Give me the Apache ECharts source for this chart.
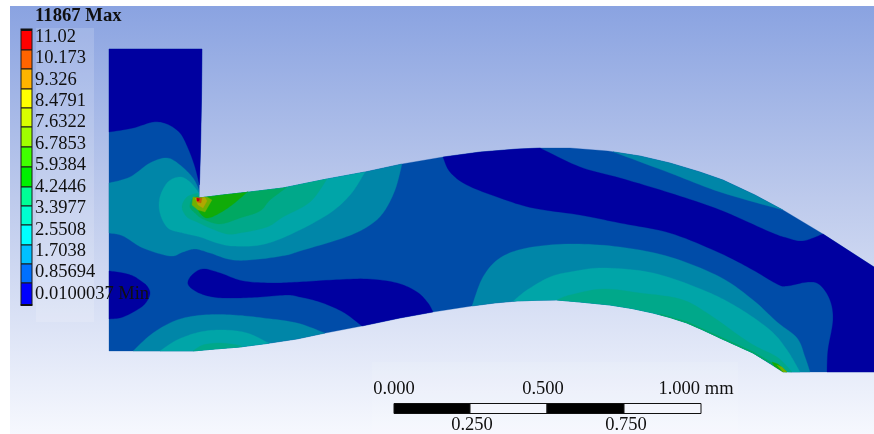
<!DOCTYPE html>
<html><head><meta charset="utf-8">
<style>html,body{margin:0;padding:0;background:#fff}#c{width:874px;height:434px}</style>
<script src="https://cdn.jsdelivr.net/npm/echarts@6/dist/echarts.min.js"></script>
</head><body><div id="c"></div>
<script>
// Colour key
const legendColors=['#ff0000','#ff6400','#ffb400','#ffff00','#d8ff00','#a0ff00','#40ff00','#00f000','#00ff96','#00ffd0','#00ffff','#00c0ff','#0070ff','#0000ff'];
const legendLabels=['11.02','10.173','9.326','8.4791','7.6322','6.7853','5.9384','4.2446','3.3977','2.5508','1.7038','0.85694','0.0100037 Min'];
const legendEdges=[30.5,50,69,89,108,127,147,167,187,206,225,245,264,283,304.5];
const legendLabelY=[37,58.5,80,101,122.5,144,165,187,208.5,230,251,272.5,294.5];
// Shaded model colours by contour band
const navy='#0000a0',band2='#004ca8',band3='#0086a8',band4='#00a5a8',band5='#00a88a',band6='#00a862',band7='#10ab08',band8='#70b000',band9='#b0a800',band10='#c06000',band11='#c00010';
// Boundary of the part (traced in image units)
const upperWall=[[199,198],[223,195],[250,192],[283,188],[300,184.5],[327,179],[365,172],[402,164],[443,157],[480,152],[517,149],[540,148],[570,148],[608,151],[640,156],[670,163],[700,172],[723,180],[755,195],[783,210],[823,234],[874,267]];
const lowerWall=[[109,351],[193,351],[215,349],[240,347],[267,343.5],[297,339],[323,333.5],[362,326],[400,318],[433,312],[472,306],[495,303],[517,301],[537,300.3],[557,300],[580,302],[610,305],[632,308.5],[653,313],[670,317.5],[687,323],[703,330],[720,338],[753,353],[783,371]];
const onWall=(wall,a,b)=>{const f=x=>{for(let i=0;i<wall.length-1;i++){const p=wall[i],q=wall[i+1];if(x>=p[0]&&x<=q[0])return [x,p[1]+(q[1]-p[1])*(x-p[0])/(q[0]-p[0])];}};const l=Math.min(a,b),h=Math.max(a,b);const r=[f(l),...wall.filter(p=>p[0]>l&&p[0]<h),f(h)].map(p=>[p[0],p[1],1]);return a<=b?r:r.reverse();};
const wallU=(a,b)=>onWall(upperWall,a,b), wallL=(a,b)=>onWall(lowerWall,a,b);
const domain=[[109,49],[202,49],[201.5,100],[200.5,150],[199,198],...upperWall.slice(1),[874,372],[783,372],...lowerWall.slice(0,-1).reverse()];
// Contour regions, painted from the lowest layer up
const navyTop=[[109,49,1],[202,49,1],[201.5,100,1],[200.5,150,1],[199.5,185,1],[195,167],[188,148],[180,133],[167,124],[153,122],[133,128],[109,132]];
const navyLeft=[[109,271],[123,273],[133,276],[141,281],[147,286],[150,293],[147,301],[140,308],[123,317],[109,319]];
const navyLens=[[188,284],[192,275],[203,269],[220,273],[243,281],[273,283],[300,282],[333,280],[367,279],[397,283],[417,292],[428,303],...wallL(433,362),[343,312],[320,302],[300,297],[287,295],[260,297],[233,298],[213,297],[197,292]];
const navyBand=[...wallU(443,540),[580,167],[620,178],[670,193],[720,210],[770,232],[787,238],[803,241],...wallU(823,874),[874,372],[827,372],[828,350],[833,320],[830,300],[820,285],[808,282],[787,286],[777,284],[753,270],[720,253],[670,233],[620,223],[580,215],[533,208],[500,198],[467,185],[450,172]];
const b3Upper=[[109,183],[130,177],[150,163],[167,158],[180,165],[193,178],[199,190,1],...wallU(199,402),[395,190],[383,213],[367,227],[343,238],[300,251],[287,255],[260,259],[233,260],[210,253],[195,249],[183,252],[170,256],[143,248],[123,236],[109,233]];
const b3Lower=[[133,351],[153,333],[177,320],[203,315],[233,315],[263,318],[297,323],...wallL(325,193)];
const b3Sliver=[...wallU(613,783),[720,192],[670,173]];
const b3Right=[...wallL(472,783),[792,372],[810,372],[805,357],[797,338],[777,322],[753,300],[720,277],[670,257],[620,247],[570,244],[527,248],[500,258],[483,277]];
const b4Upper=[[199,193,1],[190,182],[180,177],[168,182],[160,197],[160,213],[168,228],[183,233],[200,237],[217,243],[233,246],[260,245],[287,236],[327,215],[350,195],...wallU(365,199)];
const b4Lower=[[160,351],[177,340],[200,332],[223,330],[247,333],...wallL(269,193)];
const b4Right=[...wallL(513,783),[792,372],[800,372],[787,350],[770,330],[737,307],[703,290],[653,273],[603,268],[570,272],[550,277],[527,290]];
const b5Upper=[[198,193,1],[187,197],[182,207],[187,217],[197,222],[210,228],[227,234],[240,233],[267,227],[283,217],[310,202],...wallU(327,199)];
const b5Lower=[[203,345],[220,343],[237,345],...wallL(242,193)];
const b5Right=[...wallL(557,783),[786,372],[792,372],[777,357],[750,343],[707,313],[680,299],[640,293],[603,289],[570,295]];
const b6Upper=[[198,196,1],[192,199],[190,207],[195,213],[203,219],[220,224],[240,218],[260,211],[270,200],...wallU(287,199)];
const b6Right=[[660,314],[687,321.7],[720,336.8],[753,351.8],[775,364.5],[783,371],...wallL(783,660)];
const b7Upper=[[196,204],[200,213],[207,218],[218,214],[232,205],[247,192.3],...wallU(247,199)];
const b7Right=[[772,362],[778,364],[787,372],[783,372],[774,366]];
const b8Upper=[[193,197],[199,198],[207,197.1],[212,200],[205,212],[198,210],[192,205]];
const b8Right=[[777,365],[782,367],[787,372],[783,372]];
const b9Upper=[[195,198],[199,198],[205,197.3],[207,201],[203,208],[198,205]];
const b10Upper=[[196,197.5],[199,198],[202,198],[201,203],[197,202]];
const b11Upper=[[197,198],[199.5,198.5],[199,201],[197,201]];
const regions=[
 [domain,band2,false],[navyTop,navy,true],[navyLeft,navy,true],[navyLens,navy,true],[navyBand,navy,true],
 [b3Upper,band3,true],[b3Lower,band3,true],[b3Sliver,band3,true],[b3Right,band3,true],
 [b4Upper,band4,true],[b4Lower,band4,true],[b4Right,band4,true],
 [b5Upper,band5,true],[b5Lower,band5,true],[b5Right,band5,true],
 [b6Upper,band6,true],[b6Right,band6,false],[b7Upper,band7,true],[b7Right,band7,false],
 [b8Upper,band8,false],[b8Right,band8,false],[b9Upper,band9,false],[b10Upper,band10,false],[b11Upper,band11,false]];
// Scale bar
const scaleEdges=[394,470,547,624,701];
const scaleFill=['#000','#f4f6fd','#000','#f4f6fd'];
const scaleTop=[['0.000',394],['0.500',543],['1.000 mm',696]];
const scaleBottom=[['0.250',472],['0.750',626]];
const panels=[[36,94,28,322,0.16],[372,738,362,434,0.1]];

const isEdge=p=>p[2]||p[0]<=109||p[0]>=874||p[1]>=372||(p[1]>=351&&p[0]<=193);
const spline=pts=>{const n=pts.length,out=[];for(let i=0;i<n;i++){const a=pts[i],b=pts[(i+1)%n];if(isEdge(a)&&isEdge(b)){out.push(a);continue;}
 const z=isEdge(a)?a:pts[(i-1+n)%n],c=isEdge(b)?b:pts[(i+2)%n];
 for(let k=0;k<10;k++){const t=k/10,t2=t*t,t3=t2*t;out.push([0,1].map(d=>0.5*(2*a[d]+(b[d]-z[d])*t+(2*z[d]-5*a[d]+4*b[d]-c[d])*t2+(3*a[d]-z[d]-3*b[d]+c[d])*t3)));}}return out;};

const font='"Liberation Serif","Times New Roman",serif', fs=18.5;
const chart=echarts.init(document.getElementById('c'),null,{renderer:'canvas'});
const textEl=(api,t,x,y,align,extra)=>{const p=api.coord([x,y]);return {type:'text',x:p[0],y:p[1],style:Object.assign({text:t,font:fs+'px '+font,fill:'#101010',align:align,verticalAlign:'middle'},extra||{})};};
chart.setOption({
 animation:false,
 grid:{show:true,left:10,top:6,right:0,bottom:0,borderWidth:0,backgroundColor:{type:'linear',x:0,y:0,x2:0,y2:1,colorStops:[{offset:0,color:'#8aa3e1'},{offset:0.45,color:'#bdcaec'},{offset:1,color:'#f6f8fe'}]}},
 xAxis:{type:'value',min:10,max:874,show:false},
 yAxis:{type:'value',min:6,max:434,inverse:true,show:false},
 tooltip:{show:false},
 series:[
 {type:'custom',coordinateSystem:'cartesian2d',silent:true,clip:false,z:1,data:panels.map((p,i)=>[p[0],p[2],i]),
  renderItem:(params,api)=>{const p=panels[api.value(2)];const a=api.coord([p[0],p[2]]),b=api.coord([p[1],p[3]]);return {type:'rect',shape:{x:a[0],y:a[1],width:b[0]-a[0],height:b[1]-a[1]},style:{fill:'rgba(255,255,255,'+p[4]+')'}};}},
 {type:'custom',coordinateSystem:'cartesian2d',silent:true,clip:false,z:2,data:regions.map((r,i)=>[r[0][0][0],r[0][0][1],i]),
  renderItem:(params,api)=>{const r=regions[api.value(2)];const pts=r[2]?spline(r[0]):r[0];return {type:'polygon',shape:{points:pts.map(q=>api.coord(q))},style:{fill:r[1],stroke:r[1],lineWidth:0.3}};}},
 {type:'custom',coordinateSystem:'cartesian2d',silent:true,clip:false,z:3,data:legendColors.map((c,i)=>[21,legendEdges[i],i]),
  renderItem:(params,api)=>{const i=api.value(2);const a=api.coord([21,legendEdges[i]]),b=api.coord([32,legendEdges[i+1]]);return {type:'rect',shape:{x:a[0],y:a[1],width:b[0]-a[0],height:b[1]-a[1]},style:{fill:legendColors[i],stroke:'#1a1a1a',lineWidth:1}};}},
 {type:'custom',coordinateSystem:'cartesian2d',silent:true,clip:false,z:3,data:[[21,29]],
  renderItem:(params,api)=>{const a=api.coord([20.5,28.5]),b=api.coord([32.5,30.5]),c=api.coord([20.5,304]),d=api.coord([32.5,306]);return {type:'group',children:[{type:'rect',shape:{x:a[0],y:a[1],width:b[0]-a[0],height:b[1]-a[1]},style:{fill:'#111'}},{type:'rect',shape:{x:c[0],y:c[1],width:d[0]-c[0],height:d[1]-c[1]},style:{fill:'#111'}}]};}},
 {type:'custom',coordinateSystem:'cartesian2d',silent:true,clip:false,z:4,data:legendLabels.map((t,i)=>[35,legendLabelY[i],i]),
  renderItem:(params,api)=>textEl(api,legendLabels[api.value(2)],35,legendLabelY[api.value(2)],'left')},
 {type:'custom',coordinateSystem:'cartesian2d',silent:true,clip:false,z:4,data:[[35,16]],
  renderItem:(params,api)=>textEl(api,'11867 Max',35,16,'left',{font:'bold 18.7px '+font})},
 {type:'custom',coordinateSystem:'cartesian2d',silent:true,clip:false,z:3,data:scaleFill.map((c,i)=>[scaleEdges[i],403,i]),
  renderItem:(params,api)=>{const i=api.value(2);const a=api.coord([scaleEdges[i],403.5]),b=api.coord([scaleEdges[i+1],413.5]);return {type:'rect',shape:{x:a[0],y:a[1],width:b[0]-a[0],height:b[1]-a[1]},style:{fill:scaleFill[i],stroke:'#111',lineWidth:1}};}},
 {type:'custom',coordinateSystem:'cartesian2d',silent:true,clip:false,z:4,data:scaleTop.map((t,i)=>[t[1],389,i]),
  renderItem:(params,api)=>{const t=scaleTop[api.value(2)];return textEl(api,t[0],t[1],389,'center');}},
 {type:'custom',coordinateSystem:'cartesian2d',silent:true,clip:false,z:4,data:scaleBottom.map((t,i)=>[t[1],425,i]),
  renderItem:(params,api)=>{const t=scaleBottom[api.value(2)];return textEl(api,t[0],t[1],425,'center');}}
 ]
});
</script></body></html>
